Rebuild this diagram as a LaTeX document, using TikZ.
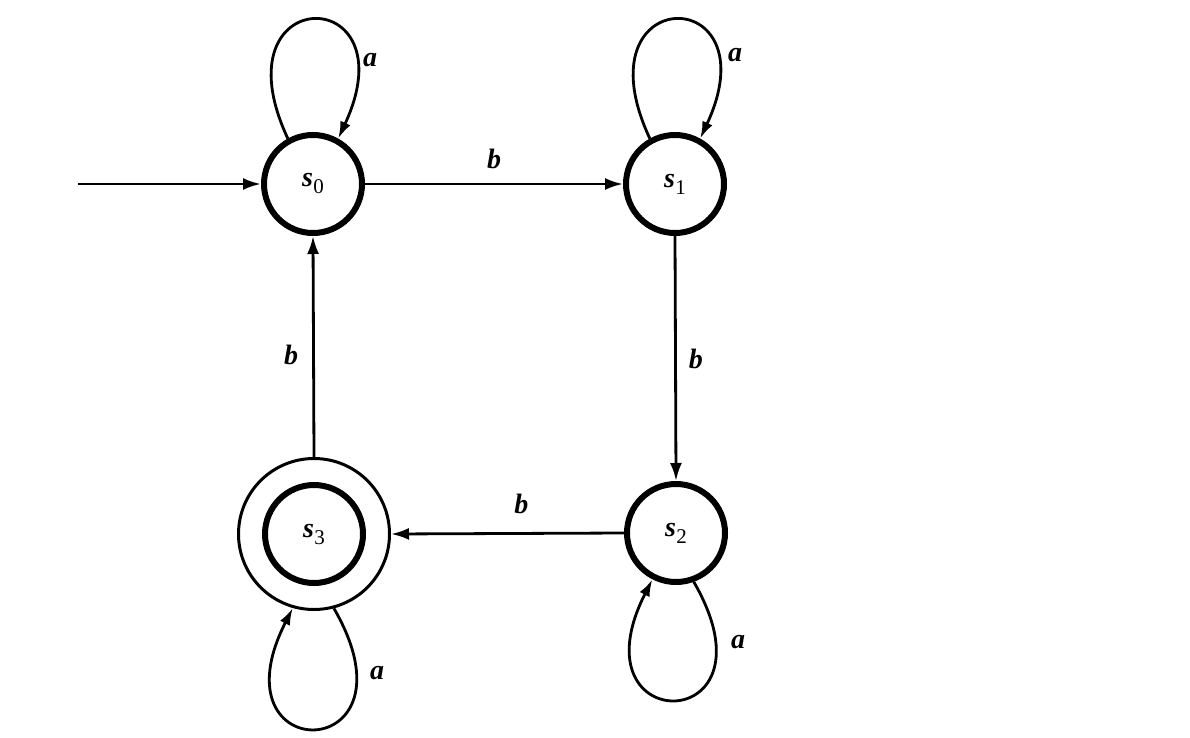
\documentclass[tikz,border=0pt]{standalone}
\usepackage{fontspec}
\setmainfont{Liberation Serif}
\usetikzlibrary{arrows.meta}
\newcommand\stname[2]{#1\kern0.5pt\raisebox{-7pt}{\fontsize{21}{21}\selectfont\mdseries\upshape #2}}
\begin{document}
\begin{tikzpicture}[x=1pt,y=-1pt,
  state/.style={circle,draw,line width=6pt,minimum size=98pt,inner sep=0pt,
    font=\fontsize{28}{30}\selectfont\bfseries\itshape},
  ring/.style={circle,draw,line width=3pt,minimum size=151pt,inner sep=0pt},
  edge/.style={line width=2.8pt,-{Latex[length=18pt,width=12pt]}},
  loopedge/.style={line width=2.8pt,-{Latex[length=17pt,width=11pt]}},
  lbl/.style={font=\fontsize{28}{30}\selectfont\bfseries\itshape,inner sep=0pt}]
\useasboundingbox (0,0) rectangle (1190,738);
\node[state] (s0) at (313,184) {\stname{s}{0}};
\node[state] (s1) at (675,184) {\stname{s}{1}};
\node[state] (s2) at (676,533) {\stname{s}{2}};
\node[state] (s3) at (314,534) {\stname{s}{3}};
\node[ring] (s3o) at (314,534) {};
\coordinate (init) at (78,184);
% edges
\draw[edge] (init) -- (s0.west);
\draw[edge] (s0.east) -- node[lbl,above=14pt] {b} (s1.west);
\draw[edge] (s1.south) -- node[lbl,right=12pt] {b} (s2.north);
\draw[edge] (s2.west) -- node[lbl,pos=0.44,above=18pt] {b} (s3o.east);
\draw[edge] (s3o.north) -- node[lbl,pos=0.46,left=14pt] {b} (s0.south);
% loops
\draw[loopedge] (s0.119) to[out=115,in=65,distance=174pt] (s0.61);
\draw[loopedge] (s1.119) to[out=115,in=65,distance=174pt] (s1.61);
\draw[loopedge] (s2.-70) to[out=-60,in=243,distance=180pt] (s2.-117);
\draw[loopedge] (s3o.-75) to[out=-60,in=243,distance=182pt] (s3o.-106);
% loop labels
\node[lbl] (la0) at (370,60) {a};
\node[lbl] (la1) at (735,55) {a};
\node[lbl] (la2) at (738,642) {a};
\node[lbl] (la3) at (377,673) {a};
\end{tikzpicture}
\end{document}
